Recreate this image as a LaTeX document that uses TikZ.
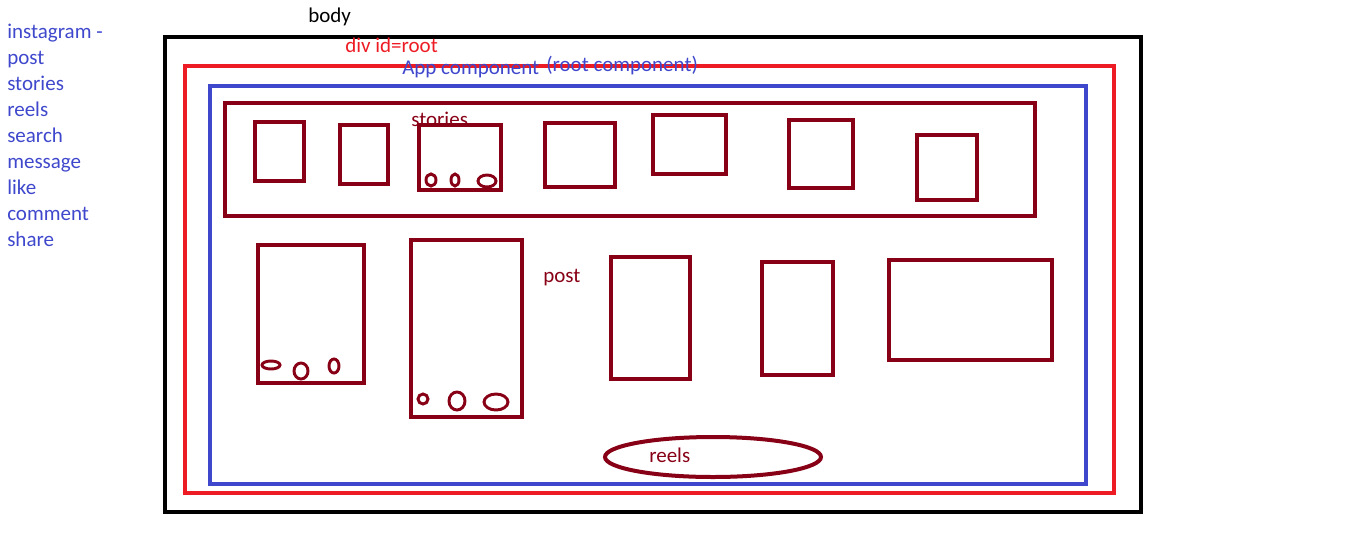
\documentclass[tikz,border=0pt]{standalone}
\usepackage{fontspec}
\setmainfont{Carlito}
\usepackage{xcolor}
\usepackage{tikz}
\usetikzlibrary{positioning}
\definecolor{bodyblack}{RGB}{0, 0, 0}
\definecolor{rootred}{RGB}{237, 28, 36}
\definecolor{appblue}{RGB}{63, 72, 204}
\definecolor{partred}{RGB}{136, 0, 21}

\begin{document}
\begin{tikzpicture}[
    x=0.75pt, y=-0.75pt,
    frame/.style={line width=3pt},
    part/.style={draw=partred, line width=3pt},
    dot/.style={draw=partred, line width=2.2pt},
    label/.style={inner sep=0pt, anchor=base west, font=\fontsize{15.75}{18}\selectfont}
]
    \useasboundingbox (0,0) rectangle (1360,551);

    % outer frames
    \draw[frame, draw=bodyblack] (165,37) rectangle (1141,512);
    \draw[frame, draw=rootred] (185,66) rectangle (1114,493);
    \draw[frame, draw=appblue] (210,86) rectangle (1086,484);

    \node[label, text=bodyblack] (body) at (308,22) {body};
    \node[label, text=rootred] (root) at (345,52) {div id=root};
    \node[label, text=appblue] (app) at (402,74) {App component};
    \node[label, text=appblue] (rootcomp) at (546,71) {(root component)};

    % stories
    \draw[part] (225,103) rectangle (1035,216);
    \node[label, text=partred] (stories) at (411,126) {stories};
    \draw[part] (255,122) rectangle (304,181);
    \draw[part] (340,125) rectangle (388,184);
    \draw[part] (419,125) rectangle (501,190);
    \draw[part] (545,123) rectangle (615,187);
    \draw[part] (653,115) rectangle (726,174);
    \draw[part] (789,120) rectangle (853,188);
    \draw[part] (917,135) rectangle (977,200);
    \draw[dot] (431,180) ellipse [x radius=5, y radius=6];
    \draw[dot] (455,180) ellipse [x radius=4, y radius=6];
    \draw[dot] (487,181) ellipse [x radius=9, y radius=6];

    % post
    \node[label, text=partred] (post) at (543,282) {post};
    \draw[part] (258,245) rectangle (364,383);
    \draw[part] (411,240) rectangle (522,417);
    \draw[part] (611,257) rectangle (690,379);
    \draw[part] (762,262) rectangle (833,375);
    \draw[part] (889,260) rectangle (1052,360);
    \draw[dot] (271,365) ellipse [x radius=9, y radius=4];
    \draw[dot] (301,371) ellipse [x radius=7, y radius=8];
    \draw[dot] (334,366) ellipse [x radius=5, y radius=7];
    \draw[dot] (423,399) ellipse [x radius=5, y radius=5];
    \draw[dot] (457,401) ellipse [x radius=8, y radius=9];
    \draw[dot] (496,402) ellipse [x radius=12, y radius=8];

    % reels
    \draw[part] (713,457) ellipse [x radius=108, y radius=20];
    \node[label, text=partred] (reels) at (649,462) {reels};

    % feature list
    \foreach \txt [count=\i] in {instagram -, post, stories, reels, search, message, like, comment, share}
        \node[label, text=appblue] (item\i) at (7,12+26*\i) {\txt};
\end{tikzpicture}
\end{document}
